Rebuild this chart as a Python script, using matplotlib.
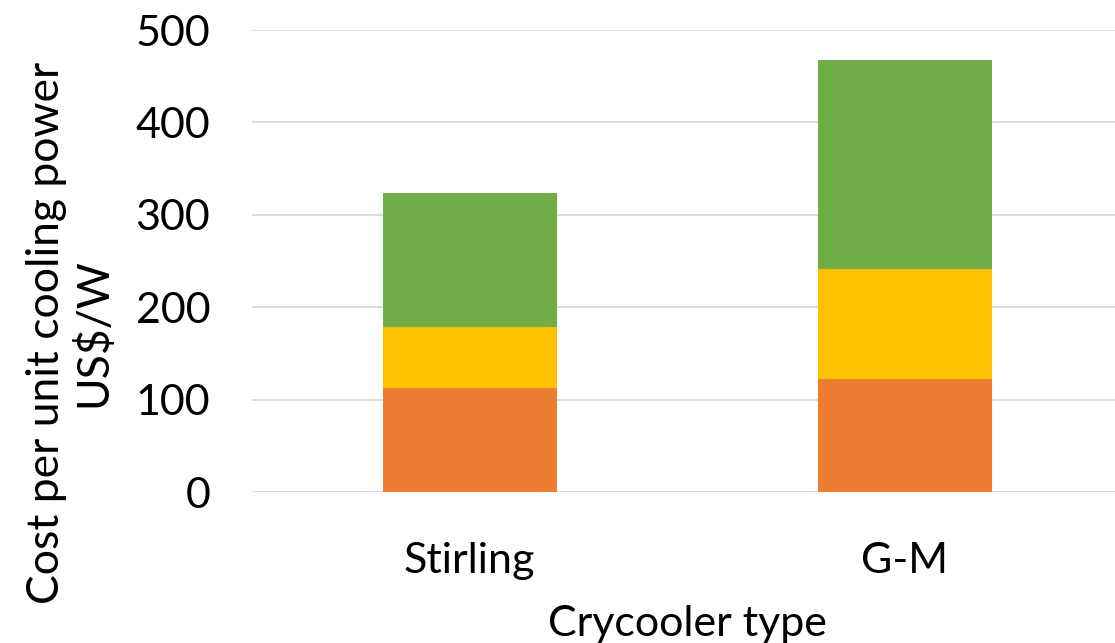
import matplotlib
matplotlib.use("Agg")
import matplotlib.pyplot as plt
import numpy as np

plt.rcParams["font.family"] = ["Lato", "DejaVu Sans"]

categories = ["Stirling", "G-M"]
orange_vals = [113, 122]
yellow_vals = [66, 119]
green_vals = [145, 226]

fig = plt.figure(figsize=(11.15, 6.43), dpi=100)
ax = fig.add_axes([252 / 1115, 1 - 492 / 643, 870 / 1115, 462 / 643])

x = np.arange(len(categories))
w = 0.4
ax.bar(x, orange_vals, w, color="#ED7D31", zorder=3)
ax.bar(x, yellow_vals, w, bottom=orange_vals, color="#FFC000", zorder=3)
bottom2 = np.array(orange_vals) + np.array(yellow_vals)
ax.bar(x, green_vals, w, bottom=bottom2, color="#70AD47", zorder=3)

ax.set_xlim(-0.5, 1.5)
ax.set_ylim(0, 500)
ax.set_yticks(range(0, 501, 100))
ax.yaxis.grid(True, color="#D9D9D9", linewidth=1.3, zorder=0)
for s in ax.spines.values():
    s.set_visible(False)
ax.tick_params(length=0, labelsize=31)
ax.tick_params(axis="y", pad=30)
ax.tick_params(axis="x", pad=36)
ax.set_xticks(x)
ax.set_xticklabels(categories, fontsize=31)
ax.set_xlabel("Crycooler type", fontsize=31, labelpad=18)

fig.text(70 / 1115, 1 - 333 / 643, "Cost per unit cooling power\nUS$/W",
         fontsize=32, rotation=90, ha="center", va="center",
         multialignment="center", linespacing=1.15)

fig.savefig("out.png", dpi=100)
